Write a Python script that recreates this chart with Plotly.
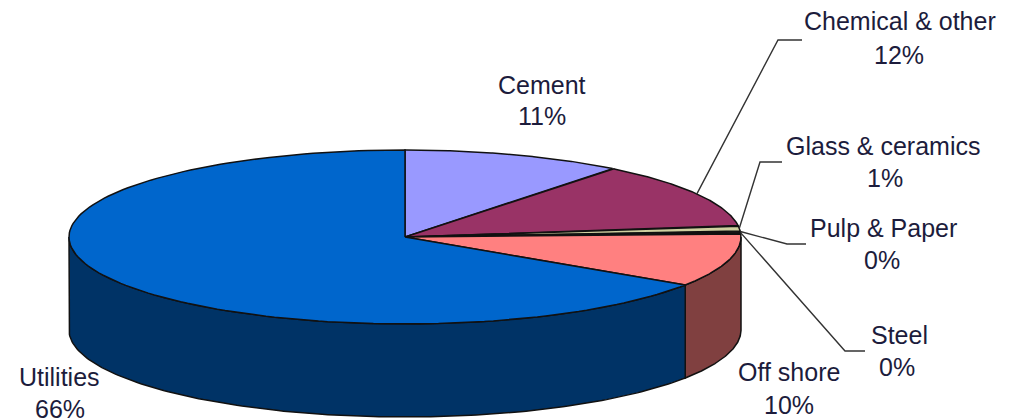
import numpy as np
import plotly.graph_objs as go

# slices, clockwise from 12 o'clock (labels on the chart show rounded values)
categories = ["Cement", "Chemical & other", "Glass & ceramics", "Pulp & Paper", "Steel", "Off shore", "Utilities"]
shares = [10.6, 12.3, 1.0, 0.2, 0.2, 10.0, 65.7]
top_colors = ["#9999FF", "#993366", "#D0D0A0", "#D8E0C0", "#C8C8A0", "#FF8080", "#0066CC"]
side_colors = ["#4D4D80", "#4D1A33", "#808060", "#708070", "#646450", "#804040", "#003366"]

# label placement in pixels: name x/y, percent x/y
name_x = [542, 900, 883, 883, 899, 789, 59]
name_y = [85, 21, 146, 228, 335, 372, 377]
pct_x = [542, 899, 885, 882, 897, 789, 60]
pct_y = [116, 55, 178, 260, 367, 405, 409]

# leader elbows, None where the label has no leader
elbow_x = [None, 778, 760, 787, 845, None, None]
elbow_y = [None, 40, 162, 244, 351, None, None]
elbow_end = [None, 802, 782, 806, 865, None, None]

# pie geometry in pixels
CX, CY = 405, 237
RX, RY = 336, 87
DEPTH = 93
W, H = 1013, 420


def rim(t, dy=0):
    return CX + RX * np.sin(t), CY - RY * np.cos(t) + dy


edges = np.radians(np.cumsum([0] + shares) * 3.6)
fig = go.Figure()

# walls first: only the part of the rim facing the viewer
for i in range(len(shares)):
    a = max(edges[i], np.pi / 2)
    b = min(edges[i + 1], 3 * np.pi / 2)
    if b <= a:
        continue
    t = np.linspace(a, b, 150)
    x, y = rim(t)
    x2, y2 = rim(t[::-1], DEPTH)
    fig.add_trace(go.Scatter(
        x=np.concatenate([x, x2, x[:1]]),
        y=np.concatenate([y, y2, y[:1]]),
        mode="lines", fill="toself", fillcolor=side_colors[i],
        line=dict(color="#111111", width=1.5), hoverinfo="skip"
    ))

# top faces
for i in range(len(shares)):
    t = np.linspace(edges[i], edges[i + 1], 150)
    x, y = rim(t)
    fig.add_trace(go.Scatter(
        x=np.concatenate([[CX], x, [CX]]),
        y=np.concatenate([[CY], y, [CY]]),
        mode="lines", fill="toself", fillcolor=top_colors[i],
        line=dict(color="#111111", width=1.5), hoverinfo="skip"
    ))

# leader lines start at the middle of each slice's rim
for i in range(len(shares)):
    if elbow_x[i] is None:
        continue
    sx, sy = rim((edges[i] + edges[i + 1]) / 2)
    fig.add_trace(go.Scatter(
        x=[sx, elbow_x[i], elbow_end[i]],
        y=[sy, elbow_y[i], elbow_y[i]],
        mode="lines", line=dict(color="#333333", width=1.4), hoverinfo="skip"
    ))

for i, name in enumerate(categories):
    for tx, ty, label in [(name_x[i], name_y[i], name), (pct_x[i], pct_y[i], f"{round(shares[i])}%")]:
        fig.add_annotation(x=tx, y=ty, text=label, showarrow=False,
                           xanchor="center", yanchor="middle",
                           font=dict(family="Liberation Sans", size=25, color="#1c1c3c"))

fig.update_layout(
    width=W, height=H,
    margin=dict(l=0, r=0, t=0, b=0),
    paper_bgcolor="white", plot_bgcolor="white",
    showlegend=False,
    xaxis=dict(range=[0, W], visible=False, fixedrange=True),
    yaxis=dict(range=[H, 0], visible=False, fixedrange=True),
)

# the page's default body margin would push the plot 8px off
fig.write_html("out.html", config=dict(displayModeBar=False),
               post_script="document.body.style.margin='0';document.body.style.overflow='hidden';")
